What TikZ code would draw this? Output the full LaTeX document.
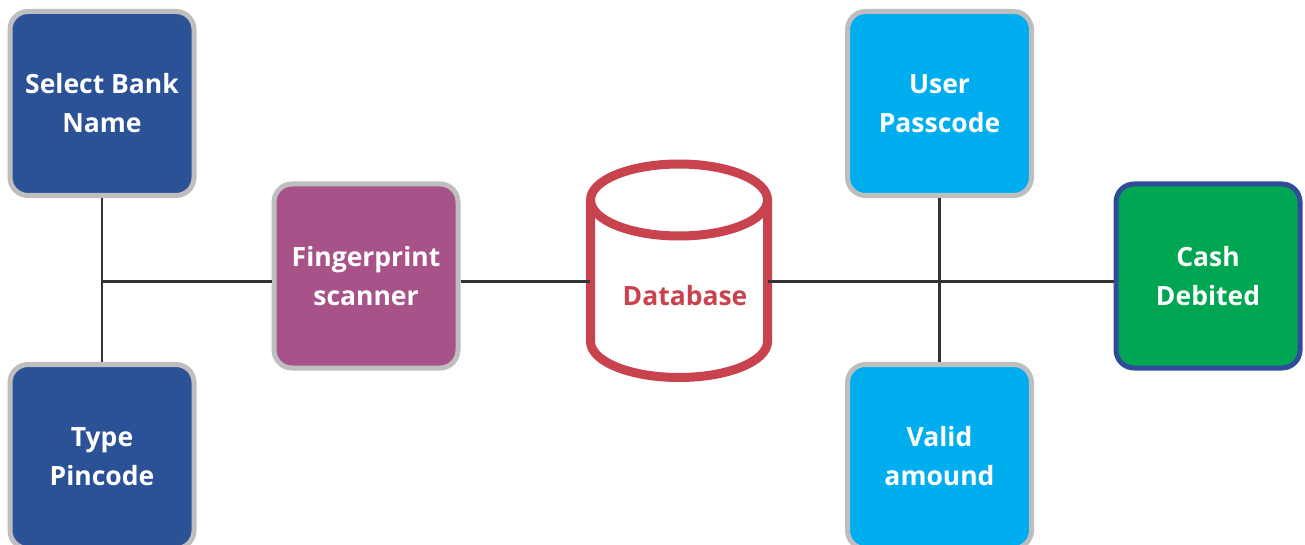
\documentclass[tikz,border=0pt]{standalone}
\usepackage{fontspec}
\setmainfont{Open Sans}
\definecolor{bankblue}{HTML}{2B5197}
\definecolor{plum}{HTML}{A8528A}
\definecolor{sky}{HTML}{00AEEF}
\definecolor{leaf}{HTML}{00A651}
\definecolor{rim}{HTML}{BEBEBE}
\definecolor{dbred}{HTML}{C8434D}
\definecolor{navyrim}{HTML}{2E4C9A}
\definecolor{wire}{HTML}{333333}
\tikzset{
  card/.style={rectangle, rounded corners=18pt, line width=5pt, draw=rim,
    minimum width=184pt, minimum height=184pt, inner sep=0pt,
    text=white, align=center, font=\bfseries\fontsize{26.5}{39}\selectfont},
  wireline/.style={draw=wire, line width=2.5pt},
}
\begin{document}
\begin{tikzpicture}[x=1pt,y=1pt]
\useasboundingbox (0,0) rectangle (1305,544);
\fill[white] (0,0) rectangle (1305,544);

% input cards
\node[card, fill=bankblue] (sb) at (102,440.5) {Select Bank\\Name};
\node[card, fill=bankblue] (tp) at (102,87.5) {Type\\Pincode};
\node[card, fill=plum] (fp) at (366,268) {Fingerprint\\scanner};

% database cylinder
\node[rectangle, minimum width=177pt, minimum height=213.5pt, inner sep=0pt] (db) at (679,273.25) {};
\draw[dbred, line width=9pt, fill=white]
  (590.5,344) -- (590.5,202.5) arc[start angle=180, end angle=360, x radius=88.5, y radius=36]
  -- (767.5,344) arc[start angle=0, end angle=180, x radius=88.5, y radius=36] -- cycle;
\draw[dbred, line width=9pt] (590.5,344) arc[start angle=180, end angle=360, x radius=88.5, y radius=36];
\node[text=dbred, font=\bfseries\fontsize{26.5}{39}\selectfont] (dbl) at (685,248) {Database};

% output cards
\node[card, fill=sky] (up) at (939.5,440.5) {User\\Passcode};
\node[card, fill=sky] (va) at (939.5,87.5) {Valid\\amound};
\node[card, fill=leaf, draw=navyrim] (cd) at (1208,268) {Cash\\Debited};

% connectors
\coordinate (hubL) at (102,262.5);
\coordinate (hubR) at (939.5,262.5);
\path[wireline] (sb.south) -- (tp.north);
\path[wireline] (up.south) -- (va.north);
\path[wireline] (hubL) -- (fp.west |- hubL);
\path[wireline] (fp.east |- hubL) -- (db.west |- hubL);
\path[wireline] (db.east |- hubL) -- (cd.west |- hubL);
\end{tikzpicture}
\end{document}
